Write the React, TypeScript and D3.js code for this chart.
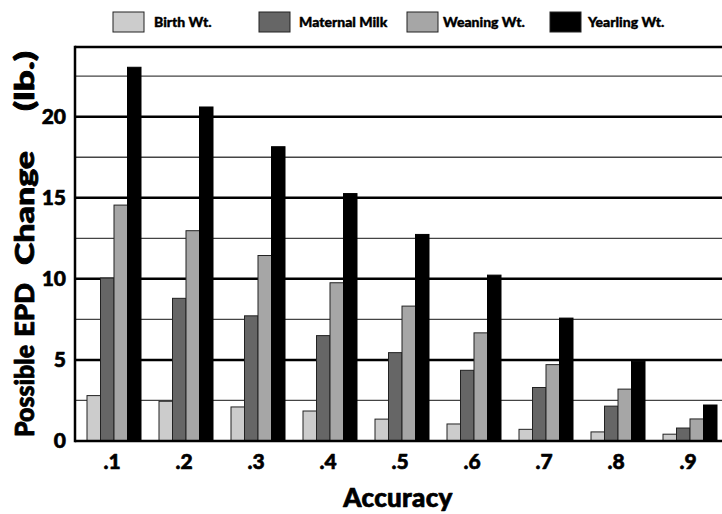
import * as d3 from "d3";
import { useEffect, useRef } from "react";

const accuracy = [".1", ".2", ".3", ".4", ".5", ".6", ".7", ".8", ".9"];
const seriesNames = ["Birth Wt.", "Maternal Milk", "Weaning Wt.", "Yearling Wt."];
const birthWt = [2.8, 2.45, 2.1, 1.85, 1.35, 1.05, 0.72, 0.56, 0.42];
const maternalMilk = [10.05, 8.8, 7.72, 6.5, 5.45, 4.36, 3.3, 2.15, 0.8];
const weaningWt = [14.55, 12.97, 11.44, 9.76, 8.32, 6.67, 4.71, 3.2, 1.36];
const yearlingWt = [23.05, 20.6, 18.15, 15.26, 12.74, 10.23, 7.58, 4.91, 2.22];
const majorTicks = [0, 5, 10, 15, 20];
const minorTicks = [2.5, 7.5, 12.5, 17.5, 22.5];
const yTitleWords = ["Possible", "EPD", "Change", "(lb.)"];

const FONT = "Lato, 'Open Sans', sans-serif";

export default function App() {
  const ref = useRef(null);

  useEffect(() => {
    var width = 722;
    var height = 514;
    var left = 75;
    var top = 47;
    var bottom = 441;

    var svg = d3
      .select(ref.current)
      .append("svg")
      .attr("width", width)
      .attr("height", height)
      .style("position", "absolute")
      .style("left", 0)
      .style("top", 0)
      .style("font-family", FONT)
      .style("font-weight", 900);

    var values = [birthWt, maternalMilk, weaningWt, yearlingWt];
    var colors = ["#cccccc", "#666666", "#a6a6a6", "#000000"];

    var y = d3.scaleLinear().domain([0, 24.3]).range([bottom, top]);

    var x0 = d3
      .scaleBand()
      .domain(accuracy)
      .range([87, 717])
      .paddingInner(0.25)
      .paddingOuter(0);

    var x1 = d3
      .scaleBand()
      .domain(seriesNames)
      .range([0, x0.bandwidth()])
      .padding(0);

    // minor grid lines (thin)
    svg
      .selectAll("minorGrid")
      .data(minorTicks)
      .enter()
      .append("line")
      .attr("x1", left)
      .attr("x2", width)
      .attr("y1", (d) => y(d))
      .attr("y2", (d) => y(d))
      .attr("stroke", "#444")
      .attr("stroke-width", 1.3);

    // major grid lines (thick)
    svg
      .selectAll("majorGrid")
      .data(majorTicks.filter((d) => d > 0))
      .enter()
      .append("line")
      .attr("x1", left)
      .attr("x2", width)
      .attr("y1", (d) => y(d))
      .attr("y2", (d) => y(d))
      .attr("stroke", "#000")
      .attr("stroke-width", 2.5);

    // bars
    var groups = svg
      .selectAll("groups")
      .data(accuracy)
      .enter()
      .append("g")
      .attr("transform", (d) => "translate(" + x0(d) + ",0)");

    groups
      .selectAll("rect")
      .data((d, i) =>
        seriesNames.map((s, j) => ({ key: s, value: values[j][i], color: colors[j] }))
      )
      .enter()
      .append("rect")
      .attr("x", (d) => x1(d.key) as number)
      .attr("width", x1.bandwidth())
      .attr("y", (d) => y(d.value))
      .attr("height", (d) => bottom - y(d.value))
      .attr("fill", (d) => d.color)
      .attr("stroke", (d) => (d.color === "#000000" ? "#000" : "#222"))
      .attr("stroke-width", 1);

    // frame: top, left, bottom
    svg
      .append("line")
      .attr("x1", left)
      .attr("x2", width)
      .attr("y1", top)
      .attr("y2", top)
      .attr("stroke", "#000")
      .attr("stroke-width", 2.5);
    svg
      .append("line")
      .attr("x1", left)
      .attr("x2", left)
      .attr("y1", top - 1.25)
      .attr("y2", bottom + 1.25)
      .attr("stroke", "#000")
      .attr("stroke-width", 2.5);
    svg
      .append("line")
      .attr("x1", left)
      .attr("x2", width)
      .attr("y1", bottom)
      .attr("y2", bottom)
      .attr("stroke", "#000")
      .attr("stroke-width", 2.5);

    // heavier text, the original uses a very bold face
    var heavy = (sel: any, w: number) =>
      sel.attr("stroke", "#000").attr("stroke-width", w).attr("stroke-linejoin", "round");

    // y tick labels
    heavy(
      svg
        .selectAll("yLabels")
        .data(majorTicks)
        .enter()
        .append("text")
        .attr("x", 66)
        .attr("y", (d) => y(d) + 7)
        .attr("text-anchor", "end")
        .attr("font-size", 21)
        .text((d) => d),
      0.6
    );

    // x tick labels
    heavy(
      svg
        .selectAll("xLabels")
        .data(accuracy)
        .enter()
        .append("text")
        .attr("x", (d) => (x0(d) as number) + x0.bandwidth() / 2 - 2)
        .attr("y", 469)
        .attr("text-anchor", "middle")
        .attr("font-size", 21)
        .text((d) => d),
      0.6
    );

    // axis titles
    heavy(
      svg
        .append("text")
        .attr("x", 398)
        .attr("y", 507)
        .attr("text-anchor", "middle")
        .attr("font-size", 26)
        .attr("letter-spacing", 0.3)
        .text("Accuracy"),
      0.7
    );

    // the y title words are spaced out unevenly in the original
    var wordCenters = [391, 310, 208, 81];
    var wordLengths = [92, 54, 114, 60];
    heavy(
      svg
        .selectAll("yTitle")
        .data(yTitleWords)
        .enter()
        .append("text")
        .attr("transform", (d, i) => "translate(34," + wordCenters[i] + ") rotate(-90)")
        .attr("text-anchor", "middle")
        .attr("font-size", 27)
        .attr("textLength", (d, i) => wordLengths[i])
        .attr("lengthAdjust", "spacingAndGlyphs")
        .text((d) => d),
      0.8
    );

    // legend
    var legendX = [113, 259, 407, 550];
    var legend = svg
      .selectAll("legend")
      .data(seriesNames)
      .enter()
      .append("g")
      .attr("transform", (d, i) => "translate(" + legendX[i] + ",12)");
    legend
      .append("rect")
      .attr("width", 31)
      .attr("height", 20)
      .attr("fill", (d, i) => colors[i])
      .attr("stroke", "#222")
      .attr("stroke-width", 1);
    heavy(
      legend
        .append("text")
        .attr("x", (d, i) => [41, 40, 36, 38][i])
        .attr("y", 15)
        .attr("font-size", 14)
        .text((d) => d),
      0.4
    );

    return function () {
      svg.remove();
    };
  }, []);

  return <div ref={ref} />;
}
